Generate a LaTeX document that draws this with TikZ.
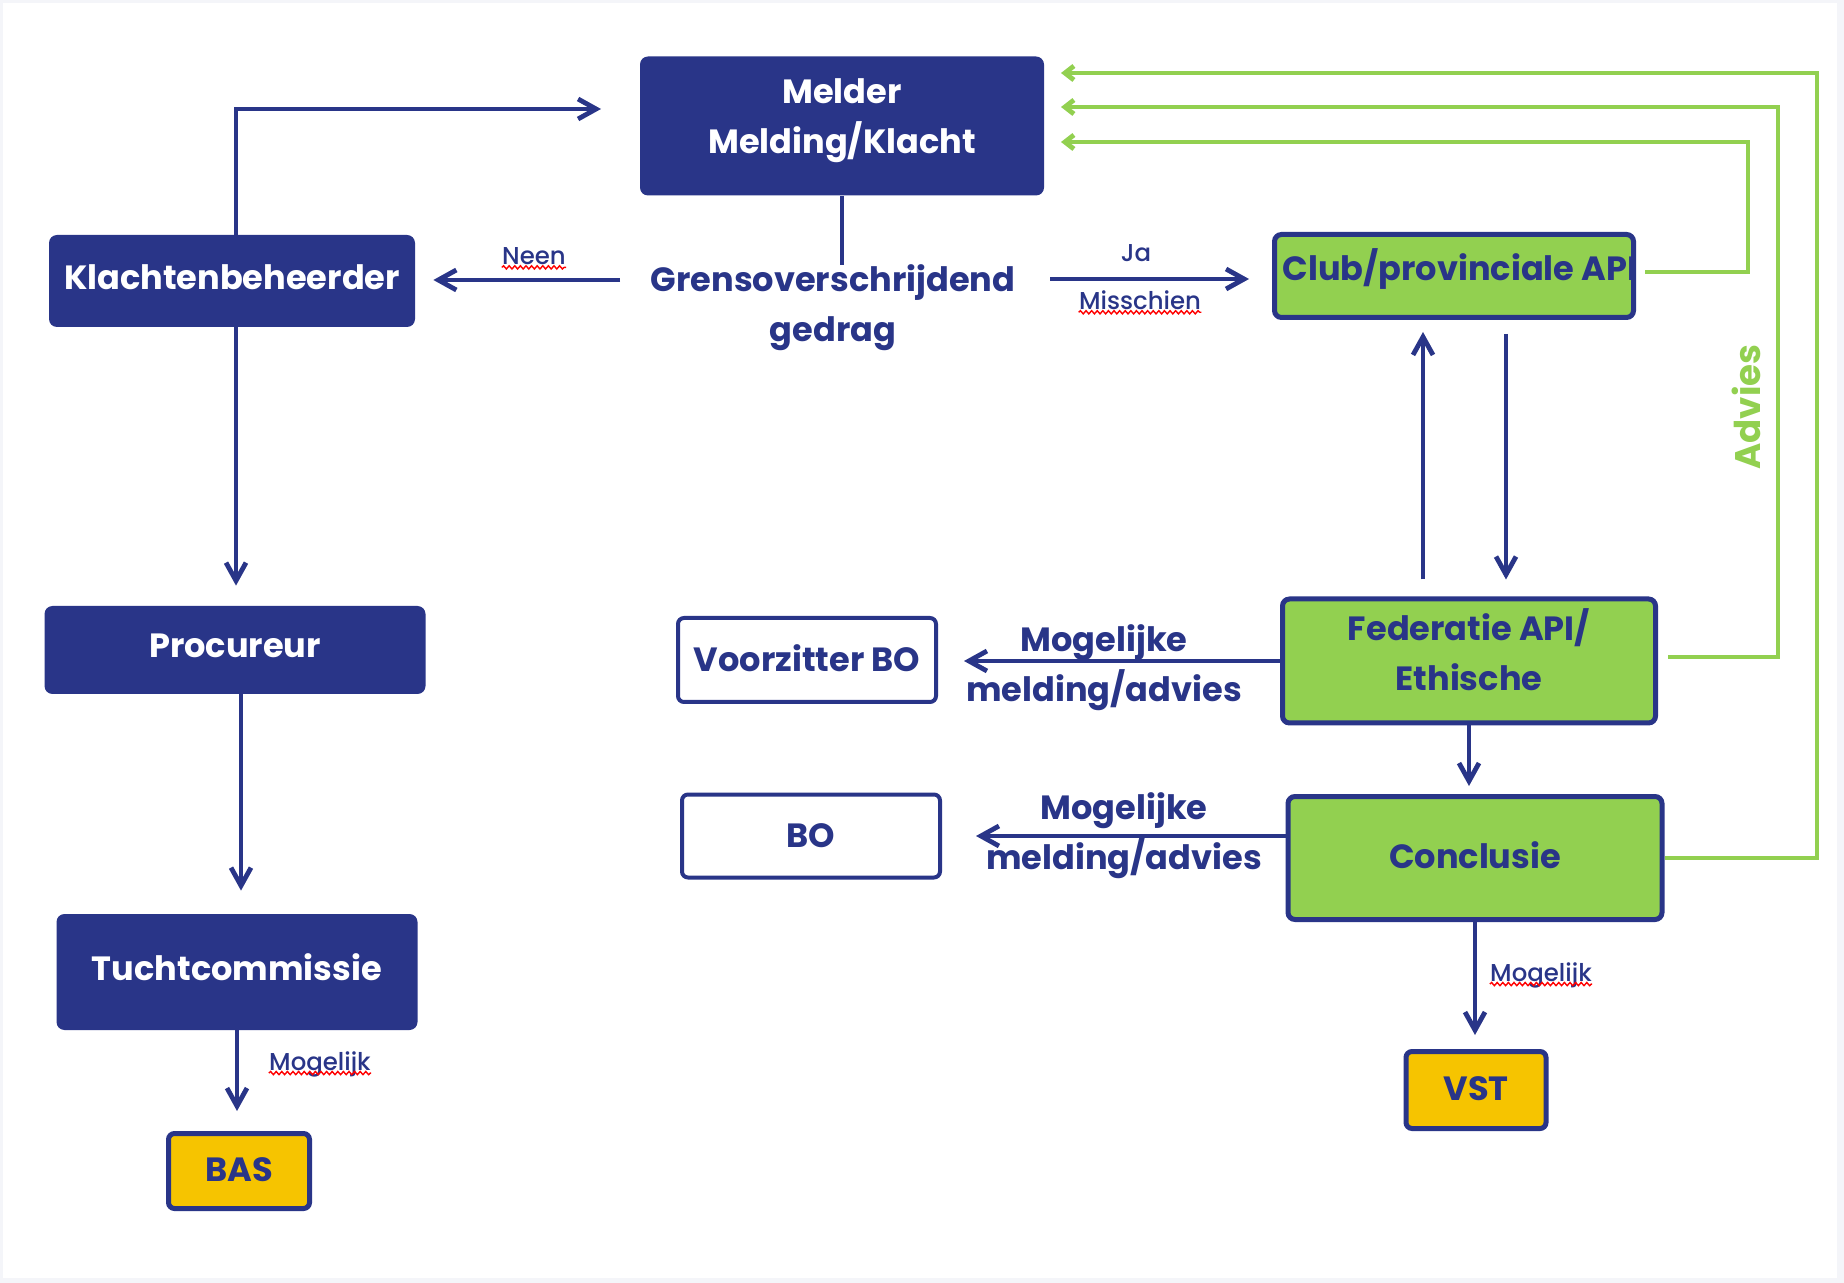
\documentclass[tikz,border=0pt]{standalone}
\usepackage{fontspec}
\setmainfont{Poppins}
\newfontfamily\popmed{Poppins Medium}
\usetikzlibrary{arrows.meta,calc,decorations.pathmorphing}
\definecolor{navy}{RGB}{41,53,136}
\definecolor{lgreen}{RGB}{146,208,80}
\definecolor{gold}{RGB}{246,196,0}
\definecolor{edgegray}{RGB}{244,245,249}
\newcommand\bfbig{\fontsize{16.8}{25}\selectfont\bfseries}
\newcommand\medsmall{\popmed\fontsize{12.2}{14}\selectfont}
\newcommand\rb[2]{\raisebox{#1}[\height][\depth]{#2}}
\tikzset{
 darkbox/.style={fill=navy, rounded corners=4pt, text=white, font=\bfbig, inner sep=0pt, align=center},
 greenbox/.style={fill=lgreen, draw=navy, line width=2.5pt, rounded corners=3.5pt, text=navy, font=\bfbig, inner sep=0pt, align=center},
 whitebox/.style={fill=white, draw=navy, line width=2pt, rounded corners=3pt, text=navy, font=\bfbig, inner sep=0pt},
 yellowbox/.style={fill=gold, draw=navy, line width=2.5pt, rounded corners=3pt, text=navy, font=\bfbig, inner sep=0pt},
 bline/.style={draw=navy, line width=2.4pt},
 barrow/.style={bline, -{Straight Barb[length=9pt,width=10pt]}},
 garrow/.style={draw=lgreen, line width=2.4pt, -{Straight Barb[length=4.5pt,width=7pt]}},
 lbl/.style={text=navy, font=\medsmall, inner sep=0pt},
 biglbl/.style={text=navy, font=\bfbig, inner sep=0pt, align=center},
 squig/.style={draw=red, line width=0.7pt, decorate, decoration={snake, amplitude=0.8pt, segment length=2.8pt}},
}
\begin{document}
\begin{tikzpicture}[x=0.5pt,y=-0.5pt]
\useasboundingbox (0,0) rectangle (1844,1283);
\fill[edgegray] (0,0) rectangle (1844,1283);
\fill[white] (3,3) rectangle (1837,1278);

% nodes
\node[darkbox, minimum width=202pt, minimum height=69.5pt] (melder) at (842,126)
  {\rb{3.6pt}{\begin{tabular}{@{}c@{}}Melder\\Melding/Klacht\end{tabular}}};
\node[darkbox, minimum width=183pt, minimum height=46pt] (klacht) at (232,281) {\rb{2pt}{Klachtenbeheerder}};
\node[darkbox, minimum width=190.5pt, minimum height=44pt] (proc) at (235,650) {\rb{2.2pt}{Procureur}};
\node[darkbox, minimum width=180.5pt, minimum height=58pt] (tucht) at (237,972) {\rb{2.2pt}{Tuchtcommissie}};
\node[yellowbox, minimum width=70.5pt, minimum height=37.5pt] (bas) at (239,1171) {\rb{0.5pt}{BAS}};
\node[biglbl] (grens) at (833,308) {Grensoverschrijdend\\gedrag};
\node[greenbox, minimum width=179.5pt, minimum height=41.5pt] (club) at (1454,276)
  {\makebox[171.5pt][l]{\rb{3.25pt}{Club/provinciale API}}};
\node[greenbox, minimum width=186.5pt, minimum height=62pt] (fed) at (1469,661)
  {\rb{2.7pt}{\begin{tabular}{@{}c@{}}Federatie API/\\Ethische\end{tabular}}};
\node[greenbox, minimum width=187pt, minimum height=61.5pt] (concl) at (1475,858) {\rb{1.4pt}{Conclusie}};
\node[whitebox, minimum width=129pt, minimum height=42pt] (voorz) at (807,660) {\rb{1pt}{Voorzitter BO}};
\node[whitebox, minimum width=129pt, minimum height=41.5pt] (bo) at (811,836) {BO};
\node[yellowbox, minimum width=70pt, minimum height=38.5pt] (vst) at (1476,1090) {\rb{0.5pt}{VST}};

% coordinates for free ends
\coordinate (gL) at (620,280);
\coordinate (gR) at (1050,279);
\coordinate (kTop) at (601,109);
\coordinate (g1) at (1061,73);
\coordinate (g2) at (1061,107);
\coordinate (g3) at (1061,142);

% blue connectors
\draw[bline] (melder.south) -- (melder.south |- grens.north);
\draw[barrow, shorten >=9pt] (gL) -- (gL -| klacht.east);
\draw[barrow, shorten >=11.5pt] (gR) -- (gR -| club.west);
\draw[barrow] ([xshift=2pt]klacht.north) |- (kTop);
\draw[barrow, shorten >=10pt] ([xshift=2pt]klacht.south) -- ([xshift=2pt]klacht.south |- proc.north);
\draw[barrow, shorten >=11.5pt] ([xshift=3pt]proc.south) -- ([xshift=3pt]proc.south |- tucht.north);
\draw[barrow, shorten >=10pt] (tucht.south) -- (tucht.south |- bas.north);
\draw[barrow, shorten <=8.5pt, shorten >=6pt] ([xshift=-23pt]fed.north) -- ([xshift=-23pt]fed.north |- club.south);
\draw[barrow, shorten <=7pt, shorten >=8.5pt] ([xshift=18.5pt]fed.north |- club.south) -- ([xshift=18.5pt]fed.north);
\draw[barrow, shorten >=4pt] (fed.south) -- (fed.south |- concl.north);
\draw[barrow, shorten >=7pt] (concl.south) -- (concl.south |- vst.north);
\draw[barrow, shorten >=13pt] (fed.west) -- (fed.west -| voorz.east);
\draw[barrow, shorten >=17pt] (concl.west |- bo.east) -- (bo.east);

% green connectors
\draw[garrow] (concl.east) -| (1817,73) -- (g1);
\draw[garrow] ([xshift=5pt,yshift=2pt]fed.east) -| (1778,107) -- (g2);
\draw[garrow] ([xshift=4.5pt,yshift=2pt]club.east) -| (1748,142) -- (g3);
\node[text=lgreen, font=\fontsize{17.8}{20}\selectfont\bfseries, rotate=90, inner sep=0pt] (advies) at (1746,407) {Advies};

% labels
\node[lbl] (neen) at (534,256) {Neen};
\node[lbl] (ja) at (1136,253) {Ja};
\node[lbl] (miss) at (1140,300) {Misschien};
\node[lbl] (mog1) at (320,1064) {Mogelijk};
\node[lbl] (mog2) at (1541,975) {Mogelijk};
\node[biglbl] (mm1) at (1104,668) {Mogelijke\\melding/advies};
\node[biglbl] (mm2) at (1124,836) {Mogelijke\\melding/advies};

\draw[squig] ([yshift=-1.5pt]neen.base west) -- ([yshift=-1.5pt]neen.base east);
\draw[squig] ([yshift=-1.5pt]miss.base west) -- ([yshift=-1.5pt]miss.base east);
\draw[squig] ([yshift=-1.5pt]mog1.base west) -- ([yshift=-1.5pt]mog1.base east);
\draw[squig] ([yshift=-1.5pt]mog2.base west) -- ([yshift=-1.5pt]mog2.base east);
\end{tikzpicture}
\end{document}
